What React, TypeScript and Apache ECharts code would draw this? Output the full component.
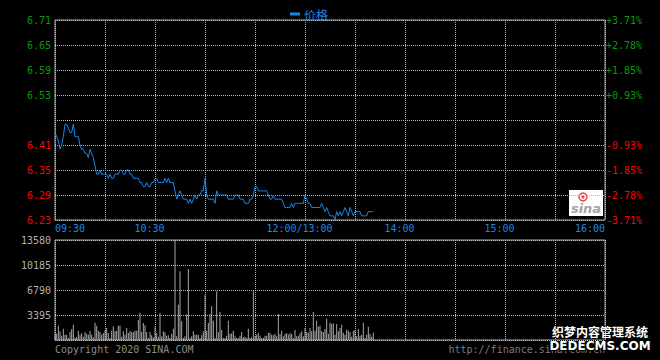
import React, { useEffect, useRef } from 'react';
import * as echarts from 'echarts';

// Previous close and axis ranges
const prevClose = 6.47;
const priceMin = 6.23;
const priceMax = 6.71;
const priceStep = 0.06;
const volMax = 13580;
const volStep = 3395;
const sessionMinutes = 330;

// Time axis labels (minutes from 09:30, lunch break removed)
const timeLabelMinutes = [0, 60, 150, 210, 270, 330];
const timeLabels = ['09:30', '10:30', '12:00/13:00', '14:00', '15:00', '16:00'];

// Minute prices (one per trading minute since 09:30)
const prices = [
  6.44, 6.43, 6.42, 6.40, 6.41, 6.43, 6.46, 6.46, 6.45, 6.44,
  6.44, 6.46, 6.43, 6.43, 6.43, 6.41, 6.40, 6.40, 6.39, 6.39,
  6.38, 6.40, 6.39, 6.38, 6.36, 6.34, 6.34, 6.35, 6.34, 6.34,
  6.34, 6.34, 6.33, 6.34, 6.33, 6.33, 6.34, 6.34, 6.34, 6.35,
  6.35, 6.34, 6.34, 6.35, 6.35, 6.34, 6.34, 6.33, 6.33, 6.33,
  6.33, 6.32, 6.32, 6.31, 6.31, 6.32, 6.31, 6.31, 6.32, 6.32,
  6.33, 6.33, 6.32, 6.32, 6.32, 6.32, 6.33, 6.32, 6.33, 6.32,
  6.32, 6.32, 6.30, 6.28, 6.29, 6.30, 6.29, 6.28, 6.28, 6.28,
  6.27, 6.28, 6.27, 6.28, 6.29, 6.28, 6.29, 6.29, 6.30, 6.30,
  6.33, 6.29, 6.28, 6.28, 6.28, 6.28, 6.27, 6.30, 6.29, 6.29,
  6.29, 6.29, 6.29, 6.29, 6.28, 6.28, 6.28, 6.28, 6.29, 6.29,
  6.29, 6.28, 6.28, 6.28, 6.27, 6.27, 6.27, 6.28, 6.28, 6.29,
  6.31, 6.31, 6.30, 6.30, 6.30, 6.30, 6.30, 6.30, 6.29, 6.28,
  6.28, 6.29, 6.28, 6.28, 6.28, 6.28, 6.28, 6.27, 6.26, 6.26,
  6.26, 6.26, 6.27, 6.26, 6.27, 6.27, 6.27, 6.27, 6.27, 6.27,
  6.29, 6.28, 6.27, 6.27, 6.26, 6.26, 6.26, 6.26, 6.26, 6.26,
  6.27, 6.26, 6.25, 6.26, 6.25, 6.24, 6.24, 6.24, 6.23, 6.25,
  6.24, 6.25, 6.24, 6.25, 6.26, 6.25, 6.24, 6.26, 6.25, 6.24,
  6.25, 6.25, 6.25, 6.25, 6.24, 6.24, 6.24, 6.24, 6.25, 6.25,
  6.25, 6.25,
];

// Minute volumes
const volumes = [
  700, 850, 1950, 1180, 590, 1540, 725, 725, 270, 1090,
  1500, 2080, 270, 400, 1270, 725, 900, 450, 1090, 860,
  725, 1270, 725, 360, 2350, 1950, 1270, 1090, 725, 950,
  1360, 1630, 950, 270, 1270, 1860, 1180, 1270, 1950, 1950,
  450, 1180, 725, 1630, 950, 1270, 1040, 1090, 1270, 1270,
  2720, 3710, 1090, 2310, 2000, 1090, 270, 1090, 630, 360,
  1810, 900, 450, 3670, 500, 1180, 1040, 590, 630, 270,
  815, 1540, 13580, 500, 4800, 9330, 2530, 270, 500, 3450,
  9650, 270, 500, 1180, 725, 725, 725, 270, 725, 1180,
  6070, 1270, 2310, 3530, 4575, 2630, 270, 6610, 1040, 3800,
  1360, 270, 270, 590, 2630, 815, 900, 1270, 500, 270,
  270, 590, 1090, 360, 450, 270, 1540, 270, 360, 6610,
  500, 725, 1000, 590, 270, 270, 590, 590, 950, 1000,
  725, 630, 860, 500, 3530, 815, 1270, 500, 815, 950,
  725, 900, 815, 270, 1360, 500, 590, 900, 1180, 500,
  1630, 1090, 1000, 1630, 1180, 3800, 1270, 2630, 1810, 1950,
  1180, 1090, 1500, 2900, 815, 2350, 2170, 2260, 725, 2170,
  1180, 1630, 2080, 1000, 725, 1400, 1270, 1090, 450, 1270,
  1360, 500, 1500, 590, 725, 2350, 270, 725, 1810, 815,
  450, 1000,
];

const BLUE = '#1c86e8';
const GREEN = '#0a9a0a';
const RED = '#ff0000';
const GRAY = '#b0b0b0';
const MONO = 'DejaVu Sans Mono';

export default function App() {
  const ref = useRef<HTMLDivElement>(null);

  useEffect(() => {
    const chart = echarts.init(ref.current!, null, { renderer: 'svg' });
    const dotted = { show: true, lineStyle: { color: '#b8b8b8', type: [1, 1] as any, width: 1 } };

    const xFmt = (v: number) => {
      const i = timeLabelMinutes.indexOf(Math.round(v));
      if (i < 0) return '';
      const key = i === 0 ? 'first' : i === timeLabels.length - 1 ? 'last' : 'mid';
      return `{${key}|${timeLabels[i]}}`;
    };
    const labelBase = { fontFamily: MONO, fontSize: 10, color: BLUE };

    const isMid = (v: number) => Math.abs(v - prevClose) < 1e-6;

    chart.setOption({
      animation: false,
      backgroundColor: '#000000',
      legend: {
        data: ['价格'],
        icon: 'rect',
        itemWidth: 10,
        itemHeight: 3,
        itemGap: 6,
        left: 285,
        top: 3,
        textStyle: { color: BLUE, fontSize: 12, fontFamily: 'Noto Sans CJK SC', padding: [0, 0, 0, -1] },
      },
      grid: [
        { left: 55, top: 20, width: 550, height: 200, show: true, borderColor: '#b0b0b0', borderWidth: 1, containLabel: false },
        { left: 55, top: 240, width: 550, height: 100, show: true, borderColor: '#b0b0b0', borderWidth: 1, containLabel: false },
      ],
      xAxis: [
        {
          type: 'value', gridIndex: 0, min: 0, max: sessionMinutes, interval: 30,
          axisLine: { show: false }, axisTick: { show: false }, splitLine: dotted,
          axisLabel: {
            margin: 3,
            formatter: xFmt,
            color: BLUE,
            rich: {
              first: { ...labelBase, padding: [0, 0, 0, 30] },
              mid: { ...labelBase, padding: [0, 11, 0, 0] },
              last: { ...labelBase, padding: [0, 30, 0, 0] },
            },
          },
        },
        {
          type: 'value', gridIndex: 1, min: 0, max: sessionMinutes, interval: 30,
          axisLine: { show: false }, axisTick: { show: false }, splitLine: dotted,
          axisLabel: { show: false },
        },
      ],
      yAxis: [
        {
          type: 'value', gridIndex: 0, min: priceMin, max: priceMax, interval: priceStep,
          axisLine: { show: false }, axisTick: { show: false }, splitLine: dotted,
          axisLabel: {
            margin: 4, fontFamily: MONO, fontSize: 10, padding: [0, 0, 5, 0],
            formatter: (v: number) => (isMid(v) ? '' : v.toFixed(2)),
            color: (v: any) => (parseFloat(v) > prevClose ? GREEN : RED),
          },
        },
        {
          type: 'value', gridIndex: 0, position: 'right', min: priceMin, max: priceMax, interval: priceStep,
          axisLine: { show: false }, axisTick: { show: false }, splitLine: { show: false },
          axisLabel: {
            margin: 1, fontFamily: MONO, fontSize: 10, padding: [0, 0, 5, 0],
            formatter: (v: number) => {
              if (isMid(v)) return '';
              const pct = (v / prevClose - 1) * 100;
              return (pct > 0 ? '+' : '-') + Math.abs(pct).toFixed(2) + '%';
            },
            color: (v: any) => (parseFloat(v) > prevClose ? GREEN : RED),
          },
        },
        {
          type: 'value', gridIndex: 1, min: 0, max: volMax, interval: volStep,
          axisLine: { show: false }, axisTick: { show: false }, splitLine: dotted,
          axisLabel: {
            margin: 4, fontFamily: MONO, fontSize: 10, padding: [0, 0, 5, 0], color: GRAY,
            formatter: (v: number) => (v === 0 ? '' : String(v)),
          },
        },
      ],
      series: [
        {
          name: '价格', type: 'line', xAxisIndex: 0, yAxisIndex: 0,
          data: prices.map((p, i) => [i, p]),
          symbol: 'none', showSymbol: false,
          lineStyle: { width: 1, color: BLUE },
          itemStyle: { color: BLUE },
        },
        {
          name: '成交量', type: 'bar', xAxisIndex: 1, yAxisIndex: 2,
          data: volumes.map((v, i) => [i, v]),
          barWidth: 1,
          itemStyle: { color: '#a8a8a8' },
        },
      ],
      graphic: [
        {
          type: 'text', left: 55, top: 344,
          style: { text: 'Copyright 2020 SINA.COM', fill: '#8c8c8c', font: `10px "${MONO}"` },
        },
        {
          type: 'text', right: 55, top: 344,
          style: { text: 'http://finance.sina.com.cn', fill: '#7c7c7c', font: `10px "${MONO}"` },
        },
        {
          type: 'rect', shape: { x: 569, y: 190, width: 34, height: 26 },
          style: { fill: '#ffffff' },
        },
        {
          type: 'circle', shape: { cx: 583, cy: 197, r: 4 },
          style: { fill: 'none', stroke: '#e84a4a', lineWidth: 1.5 },
        },
        {
          type: 'circle', shape: { cx: 583, cy: 197, r: 1.6 },
          style: { fill: '#e84a4a' },
        },
        {
          type: 'text', x: 586, y: 208,
          style: {
            text: 'sina', fill: '#a4a4a4', font: 'italic bold 13px "DejaVu Sans"',
            textAlign: 'center', textVerticalAlign: 'middle', align: 'center', verticalAlign: 'middle',
          } as any,
        },
        {
          type: 'text', x: 600, y: 331,
          style: {
            text: '织梦内容管理系统', fill: '#ffffff', stroke: '#000000', lineWidth: 2,
            font: 'bold 12px "Noto Sans CJK SC"',
            textAlign: 'center', textVerticalAlign: 'middle', align: 'center', verticalAlign: 'middle',
          } as any,
        },
        {
          type: 'text', x: 600, y: 346,
          style: {
            text: 'DEDECMS.COM', fill: '#ffffff', stroke: '#000000', lineWidth: 2,
            font: 'bold 12px "DejaVu Sans"',
            textAlign: 'center', textVerticalAlign: 'middle', align: 'center', verticalAlign: 'middle',
          } as any,
        },
      ],
    });

    return () => chart.dispose();
  }, []);

  return (
    <div
      ref={ref}
      style={{ position: 'fixed', left: 0, top: 0, width: 660, height: 360, background: '#000' }}
    />
  );
}
